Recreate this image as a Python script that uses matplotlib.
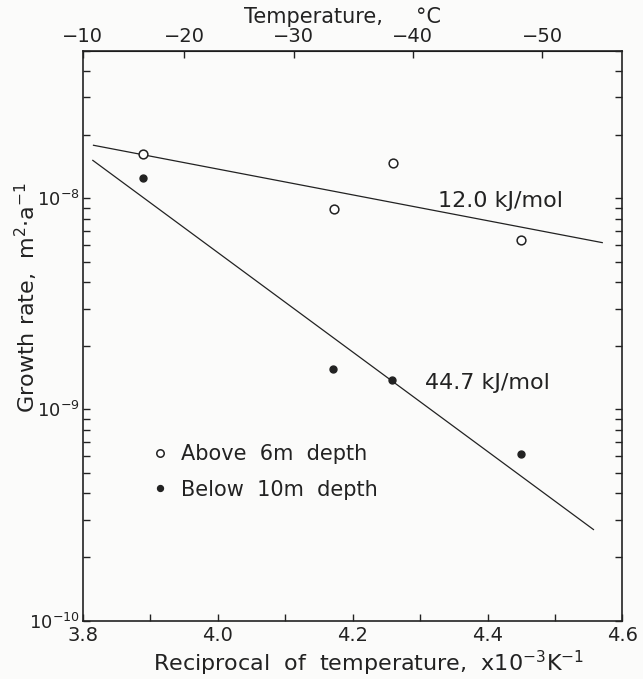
import matplotlib
matplotlib.use('Agg')
import matplotlib.pyplot as plt
import numpy as np

# reciprocal temperature (x10^-3 K^-1) and growth rate (m^2/a)
above_x = [3.889, 4.172, 4.260, 4.450]
above_y = [1.62e-8, 8.87e-9, 1.46e-8, 6.35e-9]
below_x = [3.890, 4.171, 4.258, 4.449]
below_y = [1.25e-8, 1.56e-9, 1.38e-9, 6.14e-10]

# fitted lines, end points
fit_above_x = [3.816, 4.570]
fit_above_y = [1.78e-8, 6.16e-9]
fit_below_x = [3.815, 4.557]
fit_below_y = [1.51e-8, 2.70e-10]

labels = ['Above  6m  depth', 'Below  10m  depth']
x_ticks = [3.8, 4.0, 4.2, 4.4, 4.6]
top_ticks = [-10, -20, -30, -40, -50]

ink = '#222222'
plt.rcParams['font.family'] = 'DejaVu Sans'
plt.rcParams['text.color'] = ink
plt.rcParams['axes.labelcolor'] = ink
plt.rcParams['xtick.color'] = ink
plt.rcParams['ytick.color'] = ink
plt.rcParams['mathtext.default'] = 'regular'

fig = plt.figure(figsize=(6.43, 6.79), dpi=100)
fig.patch.set_facecolor('#fbfbfa')
ax = fig.add_axes([0.1286, 0.0859, 0.8395, 0.8397])
ax.set_facecolor('#fbfbfa')

ax.plot(fit_above_x, fit_above_y, color=ink, lw=0.9)
ax.plot(fit_below_x, fit_below_y, color=ink, lw=0.9)
h1, = ax.plot(above_x, above_y, 'o', ms=6.3, mfc='white', mec=ink, mew=1.1,
              ls='none', label=labels[0])
h2, = ax.plot(below_x, below_y, 'o', ms=5, mfc=ink, mec=ink,
              ls='none', label=labels[1])

ax.text(4.326, 9.65e-9, '12.0 kJ/mol', fontsize=16, va='center')
ax.text(4.308, 1.33e-9, '44.7 kJ/mol', fontsize=16, va='center')

ax.set_yscale('log')
ax.set_xlim(3.8, 4.6)
ax.set_ylim(1e-10, 5e-8)
ax.set_xticks(x_ticks)
ax.set_xticklabels(['%.1f' % t for t in x_ticks])
ax.set_xticks(np.arange(3.9, 4.6, 0.2), minor=True)
ax.tick_params(which='both', direction='in', length=5, width=1, labelsize=14)
ax.tick_params(axis='y', which='both', right=True, pad=2, labelsize=13)
ax.tick_params(axis='x', which='both', top=False, pad=4)
for s in ax.spines.values():
    s.set_linewidth(1.2)
    s.set_color(ink)

ax.set_xlabel('Reciprocal  of  temperature,  x10$^{-3}$K$^{-1}$', fontsize=16)
ax.xaxis.label.set_va('center')
ax.xaxis.set_label_coords(0.53, -0.075)
ax.set_ylabel('Growth rate,  m$^{2}$$\\cdot$a$^{-1}$', fontsize=16)
ax.yaxis.label.set_va('center')
ax.yaxis.set_label_coords(-0.104, 0.567)


def to_c(x):
    return 1000.0 / np.asarray(x, dtype=float) - 273.15


def to_recip(c):
    return 1000.0 / (np.asarray(c, dtype=float) + 273.15)


top = ax.secondary_xaxis('top', functions=(to_c, to_recip))
top.set_xticks(top_ticks)
top.set_xticklabels(['\u2212%d' % abs(t) for t in top_ticks])
top.tick_params(direction='in', length=5, width=1, labelsize=14, pad=3)
top.set_xlabel('Temperature,     \u00b0C', fontsize=15)
top.xaxis.label.set_va('center')
top.xaxis.set_label_coords(0.481, 1.0585, transform=ax.transAxes)

leg = ax.legend(handles=[h1, h2], loc='upper left', bbox_to_anchor=(0.128, 0.31),
                frameon=False, fontsize=15, handlelength=0.8, handletextpad=0.6,
                labelspacing=0.75, borderpad=0, borderaxespad=0, markerscale=0.85)

plt.savefig('out.png', dpi=100, facecolor=fig.get_facecolor())
